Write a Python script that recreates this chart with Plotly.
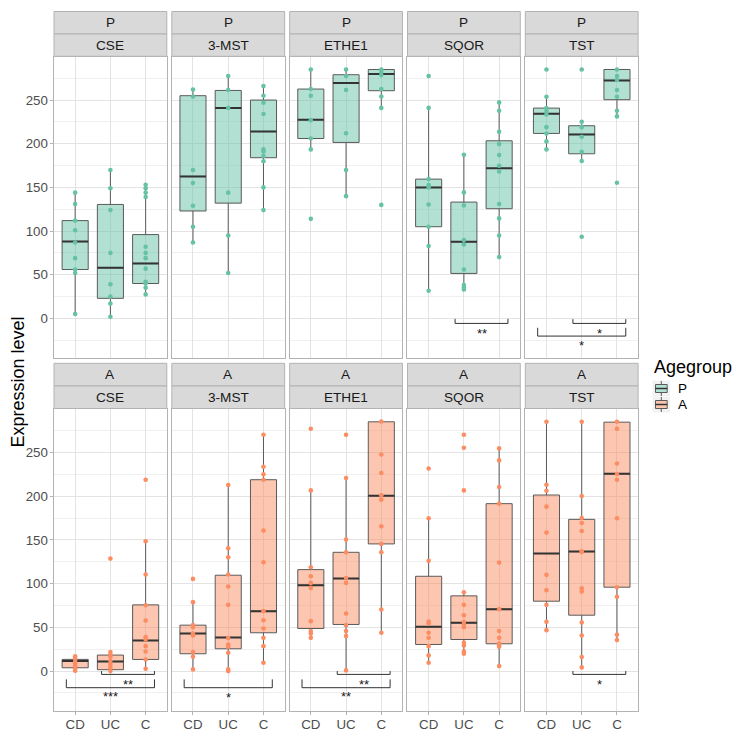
import plotly.graph_objects as go

# ---------------- data ----------------
genes = ["CSE", "3-MST", "ETHE1", "SQOR", "TST"]
groups = ["CD", "UC", "C"]
agegroups = ["P", "A"]
y_ticks = [0, 50, 100, 150, 200, 250]

# points (CD, UC, C) per gene, agegroup P
P_CSE = [[144, 131, 112, 101, 87, 69, 56, 52, 5],
         [170, 149, 124, 75, 39, 25, 17, 2],
         [153, 149, 144, 139, 82, 75, 69, 57, 42, 40, 35, 27.5]]
P_3MST = [[262, 254, 170, 155, 129, 105, 87],
          [277.5, 261.5, 241, 144, 95, 52],
          [266, 255, 247, 234, 193.5, 191, 186, 180, 150, 124]]
P_ETHE1 = [[285, 262.6, 255, 227, 206, 193.5, 114],
           [285, 277.5, 261.5, 212, 170, 140],
           [285, 282, 278.6, 262.6, 254, 241, 130]]
P_SQOR = [[277.5, 241, 159.5, 152.7, 150, 130.5, 105, 83, 31.7],
          [187.4, 144.3, 129.4, 89.7, 84.7, 56.1, 38.2, 35.5, 33.2],
          [247.3, 237.8, 213.7, 199.6, 187, 174.8, 168.3, 130.9, 114.5, 95, 70.2]]
P_TST = [[285, 253.8, 240.8, 237.4, 233.6, 219, 211.8, 202.7, 193.5],
         [285, 225.2, 219, 208, 190.8, 180.2, 93.5],
         [285, 277.5, 273, 261.5, 253.8, 237.8, 231.3, 155.3]]

# agegroup A
A_CSE = [[17, 14, 11.4, 9, 6, 3, 0.5],
         [128.6, 21.7, 19, 16.4, 11.4, 7.6, 3.9, 0],
         [218.8, 148.4, 110.4, 75.3, 57.8, 38.8, 36.1, 28.5, 22.4, 13.3, 2.7]]
A_3MST = [[105.4, 78.8, 52.5, 50.2, 43, 40.7, 21.7, 16.4, 1.9],
          [212.7, 140.4, 130.1, 110.4, 96.7, 75.7, 37.7, 30.4, 27.8, 20.9, 1.9, 0],
          [270.2, 233.6, 224.9, 218.8, 160.6, 124.4, 68.5, 58.2, 48.7, 38, 28.5, 9.5]]
A_ETHE1 = [[277, 206.6, 118.7, 108.4, 100.8, 95.1, 57.1, 45.7, 43, 38],
           [270.2, 220.7, 150.3, 135.8, 106.5, 100.8, 65.8, 52.5, 45.7, 40, 0.8],
           [285.4, 247.7, 226.4, 200.9, 196, 165.5, 145.4, 135.8, 70.4, 43.8]]
A_SQOR = [[231.7, 174.7, 126, 56.7, 54.4, 43.8, 38, 28.5, 17.9, 9.5],
          [270.2, 255.3, 206.6, 90.2, 75.7, 63.9, 56.3, 53.3, 50.2, 32.3, 29.3, 22.5, 19.8],
          [254.6, 240.9, 210.4, 191.4, 124, 70.8, 45.7, 38, 31.6, 29.3, 27.8, 5.7]]
A_TST = [[285, 213.1, 206.2, 188, 158.3, 110, 92.5, 75.7, 56.3, 46.8],
         [285, 200.2, 175, 169.3, 160.2, 137, 136.2, 94.7, 90.9, 55.6, 40.7, 16, 4.2],
         [285, 277, 237.4, 225.3, 218.8, 174.7, 95.9, 84.9, 41.5, 35.4]]

# box statistics per gene (CD, UC, C)
P_Q1 = [[56, 23, 40], [123, 132, 184], [206, 201.5, 260.7], [105, 51.5, 125.6], [211.8, 188.5, 250.4]]
P_MED = [[88, 58, 63], [162.6, 241, 214], [227.5, 269.5, 279.8], [150, 87.8, 171.8], [234.4, 210.7, 272.5]]
P_Q3 = [[112, 130.5, 96], [255, 261, 250], [262.6, 279, 285], [159.5, 133.2, 203.4], [240.8, 220.6, 285]]
P_LO = [[5, 2, 27.5], [87, 52, 124], [193.5, 140, 241], [31.7, 33.2, 70.2], [193.5, 180.2, 231.3]]
P_HI = [[144, 170, 153], [261.5, 277.5, 266], [285, 285, 285], [241, 187.4, 247.3], [253.8, 225.2, 285]]

A_Q1 = [[3.8, 1.6, 13.3], [19.8, 25.5, 43.8], [48.7, 53.3, 145.4], [30.4, 36.1, 31.2], [79.9, 63.9, 95.9]]
A_MED = [[11.4, 11, 35], [43, 38.4, 68.5], [98.2, 105.8, 200.5], [50.6, 55.2, 70.8], [134.4, 136.6, 225.6]]
A_Q3 = [[13.4, 18.3, 75.7], [52.5, 109.6, 218.8], [116, 135.8, 285], [108.4, 86, 191.4], [201.3, 173.5, 284.6]]
A_LO = [[0.5, 0, 2.7], [1.9, 0, 9.5], [38, 0.8, 43.8], [9.5, 19.8, 5.7], [46.8, 4.2, 35.4]]
A_HI = [[17, 21.7, 148.4], [78.8, 212.7, 270.2], [206.6, 220.7, 285.4], [174.7, 90.2, 254.6], [285, 285, 285]]

# significance brackets
br_age = ["P", "P", "P", "A", "A", "A", "A", "A", "A"]
br_gene = ["SQOR", "TST", "TST", "CSE", "CSE", "3-MST", "ETHE1", "ETHE1", "TST"]
br_g1 = ["UC", "UC", "CD", "UC", "CD", "CD", "UC", "CD", "UC"]
br_g2 = ["C", "C", "C", "C", "C", "C", "C", "C", "C"]
br_line = [-5.7, -5.7, -20.2, -3.8, -19, -19, -3.8, -19, -3.8]
br_tick = [-0.5, -0.8, -10.7, 0, -9.5, -9.5, 0, -9.5, 0]
br_text_y = [-13.4, -13.4, -27.5, -11.4, -25.8, -26.6, -11.4, -25.8, -11.4]
br_label = ["**", "*", "*", "**", "***", "*", "**", "**", "*"]

points = {"P": [P_CSE, P_3MST, P_ETHE1, P_SQOR, P_TST],
          "A": [A_CSE, A_3MST, A_ETHE1, A_SQOR, A_TST]}
stats = {"P": (P_Q1, P_MED, P_Q3, P_LO, P_HI), "A": (A_Q1, A_MED, A_Q3, A_LO, A_HI)}

colors = {"P": "#66C2A5", "A": "#FC8D62"}
fills = {"P": "rgba(102,194,165,0.5)", "A": "rgba(252,141,98,0.5)"}

# ---------------- layout geometry (page pixels) ----------------
OFF = 8                      # default body margin of the html page
W, H = 748 - OFF, 737 - OFF


def PX(p):
    return (p - OFF) / W


def PY(p):
    return 1 - (p - OFF) / H


col_x0 = [54 + i * 117.83 for i in range(5)]
panel_w = 112.8
row_top = [57, 409.3]
row_bot = [358, 710.7]
strip1 = [(11.5, 34.0), (363.3, 386.0)]
strip2 = [(34.0, 56.3), (386.0, 408.5)]
YR = [-45.3, 299.3]
XR = [0.4, 3.6]
BOXW = 0.74
FONT = "Liberation Sans, Arial, sans-serif"
BOXLINE = "#5a5a5a"
TICKFONT = dict(size=13.3, color="#4d4d4d", family=FONT)

fig = go.Figure()
layout_axes = {}
shapes = []
annotations = []

for r, ag in enumerate(agegroups):
    q1s, meds, q3s, los, his = stats[ag]
    for c, gene in enumerate(genes):
        idx = r * 5 + c + 1
        xa = "x" if idx == 1 else f"x{idx}"
        ya = "y" if idx == 1 else f"y{idx}"
        xs = [1, 2, 3]
        fig.add_trace(go.Box(
            x=xs, q1=q1s[c], median=meds[c], q3=q3s[c],
            lowerfence=los[c], upperfence=his[c],
            width=BOXW, whiskerwidth=0, boxpoints=False,
            fillcolor=fills[ag], line=dict(color=BOXLINE, width=1),
            name=ag, showlegend=False,
            xaxis=xa, yaxis=ya, hoverinfo="skip"))
        mx, my = [], []
        for k in range(3):
            mx += [xs[k] - BOXW / 2, xs[k] + BOXW / 2, None]
            my += [meds[c][k], meds[c][k], None]
        fig.add_trace(go.Scatter(x=mx, y=my, mode="lines",
                                 line=dict(color="#333333", width=2),
                                 showlegend=False, xaxis=xa, yaxis=ya, hoverinfo="skip"))
        px, py = [], []
        for k in range(3):
            px += [xs[k]] * len(points[ag][c][k])
            py += points[ag][c][k]
        fig.add_trace(go.Scatter(x=px, y=py, mode="markers",
                                 marker=dict(color=colors[ag], size=4.6, line=dict(width=0)),
                                 showlegend=False, xaxis=xa, yaxis=ya, hoverinfo="skip"))

        x0 = col_x0[c]
        xdom = [PX(x0), PX(x0 + panel_w)]
        ydom = [PY(row_bot[r]), PY(row_top[r])]
        layout_axes["xaxis" if idx == 1 else f"xaxis{idx}"] = dict(
            domain=xdom, anchor=ya, range=XR, tickvals=[1, 2, 3], ticktext=groups,
            showgrid=True, gridcolor="#e3e3e3", gridwidth=1, zeroline=False,
            showline=True, mirror=True, linecolor="#b3b3b3", linewidth=1,
            showticklabels=(r == 1), ticks="outside" if r == 1 else "",
            ticklen=3.5, tickcolor="#b3b3b3", ticklabelstandoff=-2,
            tickfont=TICKFONT, fixedrange=True)
        layout_axes["yaxis" if idx == 1 else f"yaxis{idx}"] = dict(
            domain=ydom, anchor=xa, range=YR, tickvals=y_ticks,
            showgrid=True, gridcolor="#e3e3e3", gridwidth=1, zeroline=False,
            minor=dict(tickvals=[-25, 25, 75, 125, 175, 225, 275], showgrid=True,
                       gridcolor="#f0f0f0", gridwidth=1),
            showline=True, mirror=True, linecolor="#b3b3b3", linewidth=1,
            showticklabels=(c == 0), ticks="outside" if c == 0 else "",
            ticklen=3.5, tickcolor="#b3b3b3", ticklabelstandoff=-1,
            tickfont=TICKFONT, fixedrange=True)

        for (s0, s1), label in ((strip1[r], ag), (strip2[r], gene)):
            shapes.append(dict(type="rect", xref="paper", yref="paper",
                               x0=xdom[0], x1=xdom[1], y0=PY(s1), y1=PY(s0),
                               fillcolor="#d9d9d9", line=dict(color="#b3b3b3", width=1),
                               layer="above"))
            annotations.append(dict(xref="paper", yref="paper",
                                    x=(xdom[0] + xdom[1]) / 2, y=PY((s0 + s1) / 2),
                                    text=label, showarrow=False,
                                    font=dict(size=13.6, color="#1a1a1a", family=FONT),
                                    xanchor="center", yanchor="middle"))

# significance brackets
for i in range(len(br_label)):
    r = agegroups.index(br_age[i])
    c = genes.index(br_gene[i])
    idx = r * 5 + c + 1
    xa = "x" if idx == 1 else f"x{idx}"
    ya = "y" if idx == 1 else f"y{idx}"
    g1 = groups.index(br_g1[i]) + 1 - 0.25
    g2 = groups.index(br_g2[i]) + 1 + 0.25
    fig.add_trace(go.Scatter(x=[g1, g1, g2, g2], y=[br_tick[i], br_line[i], br_line[i], br_tick[i]],
                             mode="lines", line=dict(color="#333333", width=1),
                             showlegend=False, xaxis=xa, yaxis=ya, hoverinfo="skip"))
    annotations.append(dict(xref=xa, yref=ya, x=(g1 + g2) / 2, y=br_text_y[i],
                            text=br_label[i], showarrow=False, yshift=-3,
                            font=dict(size=13, color="#1a1a1a", family=FONT),
                            xanchor="center", yanchor="middle"))

# y-axis title
annotations.append(dict(xref="paper", yref="paper", x=PX(17), y=PY(382.5),
                        text="Expression level", textangle=-90, showarrow=False,
                        font=dict(size=18, color="#000000", family=FONT),
                        xanchor="center", yanchor="middle"))

# legend (drawn as ggplot-style keys)
annotations.append(dict(xref="paper", yref="paper", x=PX(652), y=PY(367),
                        text="Agegroup", showarrow=False,
                        font=dict(size=18, color="#000000", family=FONT),
                        xanchor="left", yanchor="middle"))
key_top = [380.5, 396.5]
key_h = 16
for k, ag in enumerate(agegroups):
    t = key_top[k]
    b = t + key_h
    cx = 661.3
    shapes.append(dict(type="rect", xref="paper", yref="paper",
                       x0=PX(652.5), x1=PX(670), y0=PY(b), y1=PY(t),
                       fillcolor="#f2f2f2", line=dict(width=0)))
    shapes.append(dict(type="line", xref="paper", yref="paper",
                       x0=PX(cx), x1=PX(cx), y0=PY(b - 0.5), y1=PY(t + 0.5),
                       line=dict(color=BOXLINE, width=1)))
    shapes.append(dict(type="rect", xref="paper", yref="paper",
                       x0=PX(655.5), x1=PX(667.2), y0=PY(b - 4), y1=PY(t + 4),
                       fillcolor="white", line=dict(width=0)))
    shapes.append(dict(type="rect", xref="paper", yref="paper",
                       x0=PX(655.5), x1=PX(667.2), y0=PY(b - 4), y1=PY(t + 4),
                       fillcolor=fills[ag], line=dict(color=BOXLINE, width=1)))
    shapes.append(dict(type="line", xref="paper", yref="paper",
                       x0=PX(655.5), x1=PX(667.2), y0=PY((t + b) / 2), y1=PY((t + b) / 2),
                       line=dict(color="#333333", width=1.5)))
    annotations.append(dict(xref="paper", yref="paper", x=PX(676), y=PY((t + b) / 2),
                            text=ag, showarrow=False,
                            font=dict(size=13.5, color="#000000", family=FONT),
                            xanchor="left", yanchor="middle"))

fig.update_layout(
    width=W, height=H, margin=dict(l=0, r=0, t=0, b=0),
    paper_bgcolor="white", plot_bgcolor="white",
    font=dict(family=FONT), showlegend=False,
    shapes=shapes, annotations=annotations,
    **layout_axes)

fig.write_html("out.html")
